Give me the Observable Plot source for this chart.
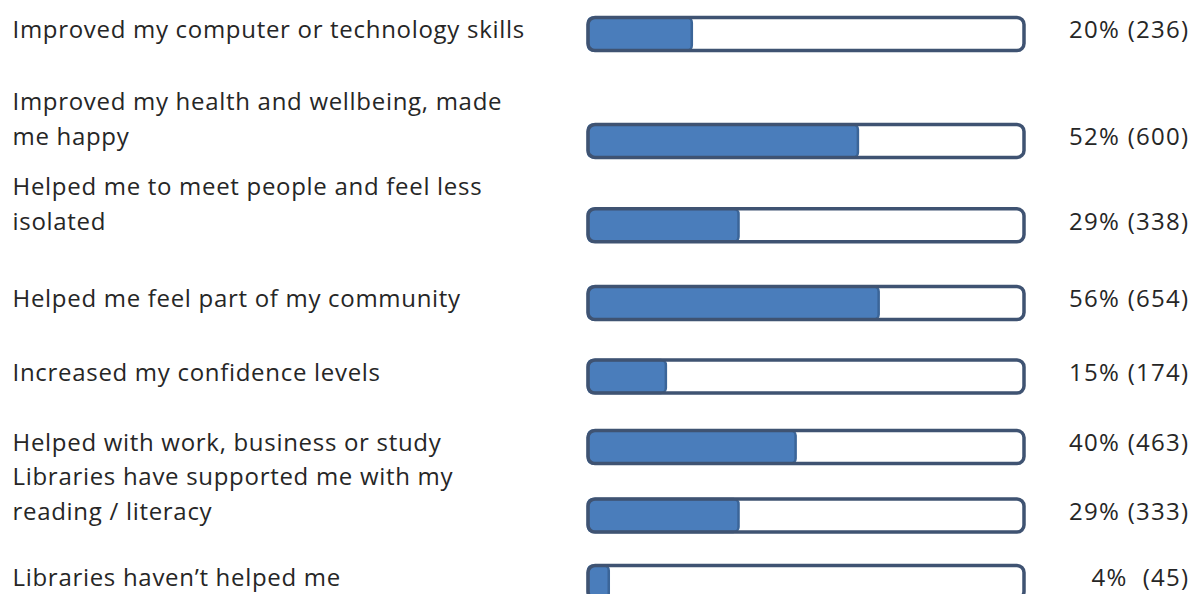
<!DOCTYPE html>
<html>
<head>
<meta charset="utf-8">
<script src="https://cdn.jsdelivr.net/npm/d3@7"></script>
<script src="https://cdn.jsdelivr.net/npm/@observablehq/plot@0.6"></script>
<style>
  html, body { margin: 0; padding: 0; background: #ffffff; }
  #chart svg { display: block; }
</style>
</head>
<body>
<div id="chart"></div>
<script>
// ---- data ----
const categories = [
  "Improved my computer or technology skills",
  "Improved my health and wellbeing, made\nme happy",
  "Helped me to meet people and feel less\nisolated",
  "Helped me feel part of my community",
  "Increased my confidence levels",
  "Helped with work, business or study",
  "Libraries have supported me with my\nreading / literacy",
  "Libraries haven\u2019t helped me"
];
const percents = [20, 52, 29, 56, 15, 40, 29, 4];
const counts = [236, 600, 338, 654, 174, 463, 333, 45];
const valueLabels = ["20% (236)", "52% (600)", "29% (338)", "56% (654)", "15% (174)", "40% (463)", "29% (333)", "4%  (45)"];
const trackMax = 84; // full bar track corresponds to this value

// ---- derived rows ----
const rows = categories.map((c, i) => ({i, label: c, lines: c.split("\n"), pct: percents[i], count: counts[i], value: valueLabels[i]}));
const lineRows = rows.flatMap(r => r.lines.map((t, k) => ({text: t, i: r.i, k: r.lines.length - 1 - k})));
const lineSpacing = 35;
const barHalf = 16.5;

const chart = Plot.plot({
  width: 1192,
  height: 594,
  margin: 0,
  style: {fontFamily: "'Open Sans', sans-serif", background: "#ffffff"},
  x: {domain: [0, trackMax], range: [588, 1024], axis: null},
  y: {type: "pow", exponent: 0.84, domain: [0, categories.length - 1], range: [34, 582], axis: null},
  marks: [
    // white track background
    Plot.rect(rows, {x1: 0, x2: trackMax, y1: "i", y2: "i", insetTop: -barHalf, insetBottom: -barHalf, fill: "#ffffff", rx: 7}),
    // filled portion
    Plot.rect(rows, {x1: 0, x2: "pct", y1: "i", y2: "i", insetTop: -barHalf, insetBottom: -barHalf, fill: "#4a7dbb", stroke: "#3b6598", strokeWidth: 2.5, rx: 5}),
    // track outline
    Plot.rect(rows, {x1: 0, x2: trackMax, y1: "i", y2: "i", insetTop: -barHalf, insetBottom: -barHalf, fill: "none", stroke: "#3f5372", strokeWidth: 3.5, rx: 7}),
    // category labels
    Plot.text(lineRows, {
      y: "i", text: "text", frameAnchor: "left", textAnchor: "start", dx: 12, dy: -4,
      lineAnchor: "middle", fontSize: 24, fill: "#262626"
    }),
    // value labels
    Plot.text(rows, {
      y: "i", text: "value", frameAnchor: "right", textAnchor: "end", dx: -3, dy: -4,
      lineAnchor: "middle", fontSize: 24, fill: "#262626"
    })
  ]
});

const textGroups = chart.querySelectorAll("g[aria-label='text']");
textGroups[0].setAttribute("letter-spacing", "0.7");
textGroups[1].setAttribute("letter-spacing", "1.3");
// shift label lines upward according to their line index from the bottom
textGroups[0].querySelectorAll("text").forEach((t, j) => {
  const k = lineRows[j].k;
  if (k) t.setAttribute("transform", `${t.getAttribute("transform") || ""} translate(0,${-k * lineSpacing})`);
});

document.getElementById("chart").appendChild(chart);
</script>
</body>
</html>
